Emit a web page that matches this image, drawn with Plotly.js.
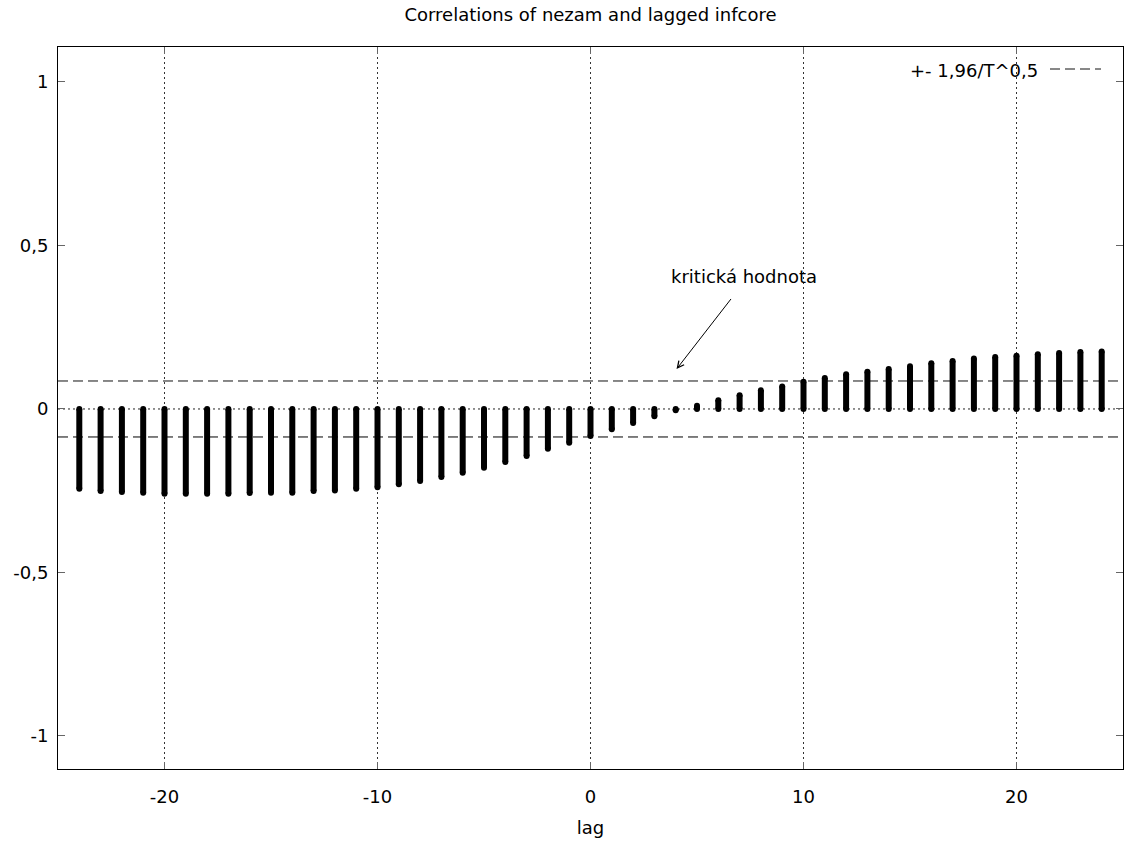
<!DOCTYPE html>
<html>
<head>
<meta charset="utf-8">
<script src="https://cdn.plot.ly/plotly-3.0.1.min.js"></script>
<style>html,body{margin:0;padding:0;background:#fff;}#chart{width:1124px;height:843px;}</style>
</head>
<body>
<div id="chart"></div>
<script>
// Data
const lags = [-24,-23,-22,-21,-20,-19,-18,-17,-16,-15,-14,-13,-12,-11,-10,-9,-8,-7,-6,-5,-4,-3,-2,-1,
              0,1,2,3,4,5,6,7,8,9,10,11,12,13,14,15,16,17,18,19,20,21,22,23,24];
const corr = [-0.244,-0.251,-0.254,-0.256,-0.259,-0.259,-0.259,-0.259,-0.257,-0.256,-0.256,-0.251,-0.249,-0.244,
              -0.239,-0.230,-0.220,-0.208,-0.195,-0.180,-0.162,-0.144,-0.122,-0.103,
              -0.083,-0.062,-0.043,-0.022,-0.004,0.010,0.027,0.042,0.057,0.069,0.083,0.095,0.106,0.114,0.122,
              0.131,0.140,0.147,0.154,0.159,0.163,0.167,0.171,0.174,0.176];
const critical = 0.0856;
const xTickVals = [-20,-10,0,10,20];
const xTickText = ['-20','-10','0','10','20'];
const yTickVals = [-1,-0.5,0,0.5,1];
const yTickText = ['-1','-0,5','0','0,5','1'];
const titleText = 'Correlations of nezam and lagged infcore';
const xTitle = 'lag';
const legendText = '+- 1,96/T^0,5';
const noteText = 'kritická hodnota';
const noteTip = [4.04, 0.122];
const noteTail = [6.65, 0.341];
const noteTextPos = [7.22, 0.404];

// Build segments
const segX = [], segY = [], capX = [], capY = [];
lags.forEach((l, i) => {
  segX.push(l, l, null);
  segY.push(0, corr[i], null);
  capX.push(l, l);
  capY.push(0, corr[i]);
});

const font = 'DejaVu Sans, Verdana, sans-serif';
const fs = 18;
const traces = [
  {x: segX, y: segY, mode: 'lines', line: {color: '#000', width: 6}, hoverinfo: 'skip', showlegend: false},
  {x: capX, y: capY, mode: 'markers', marker: {color: '#000', size: 6, line: {width: 0}}, hoverinfo: 'skip', showlegend: false}
];

const dashStyle = '10px,5px';
const shapes = [
  {type: 'line', xref: 'paper', yref: 'y', x0: 0, x1: 1, y0: critical, y1: critical, line: {color: '#111', width: 1, dash: dashStyle}, layer: 'below'},
  {type: 'line', xref: 'paper', yref: 'y', x0: 0, x1: 1, y0: -critical, y1: -critical, line: {color: '#000', width: 1, dash: dashStyle}, layer: 'below'},
  {type: 'line', xref: 'paper', yref: 'y', x0: 0, x1: 1, y0: 0, y1: 0, line: {color: '#222', width: 1, dash: '2px,3px'}, layer: 'below'},
  // legend sample
  {type: 'line', xref: 'paper', yref: 'paper', x0: (1050-58)/1065, x1: (1101-58)/1065, y0: (769-69)/722, y1: (769-69)/722, line: {color: '#111', width: 1, dash: dashStyle}}
];

const layout = {
  width: 1124, height: 843,
  margin: {l: 58, r: 1, t: 47, b: 74},
  paper_bgcolor: '#fff', plot_bgcolor: '#fff',
  separators: ', ',
  font: {family: font, size: fs, color: '#000'},
  showlegend: false,
  title: {text: titleText, font: {family: font, size: fs, color: '#000'}, x: 0.5, xref: 'paper', xanchor: 'center', y: 1 - 15/843, yanchor: 'middle', yref: 'container'},
  xaxis: {
    range: [-25, 25], tickmode: 'array', tickvals: xTickVals, ticktext: xTickText,
    ticks: 'inside', ticklen: 7, tickcolor: '#666', tickwidth: 1,
    showline: true, linecolor: '#000', linewidth: 1, mirror: 'allticks',
    showgrid: true, gridcolor: '#333', griddash: '2px,3px', gridwidth: 1,
    zeroline: false, ticklabelstandoff: 11,
    tickfont: {family: font, size: fs, color: '#000'},
    title: {text: xTitle, font: {family: font, size: fs, color: '#000'}, standoff: 15}
  },
  yaxis: {
    range: [-1.101, 1.107], tickmode: 'array', tickvals: yTickVals, ticktext: yTickText,
    ticks: 'inside', ticklen: 7, tickcolor: '#666', tickwidth: 1,
    showline: true, linecolor: '#000', linewidth: 1, mirror: 'allticks',
    showgrid: false, zeroline: false, ticklabelstandoff: 5,
    tickfont: {family: font, size: fs, color: '#000'}
  },
  shapes: shapes,
  annotations: [
    {xref: 'paper', yref: 'paper', x: (1040-58)/1065, y: (769-70)/722, xanchor: 'right', yanchor: 'middle', text: legendText, showarrow: false, font: {family: font, size: fs, color: '#000'}},
    {xref: 'x', yref: 'y', x: noteTextPos[0], y: noteTextPos[1], text: noteText, showarrow: false, xanchor: 'center', yanchor: 'middle', font: {family: font, size: fs, color: '#000'}},
    {xref: 'x', yref: 'y', x: noteTip[0], y: noteTip[1], axref: 'x', ayref: 'y', ax: noteTail[0], ay: noteTail[1], text: '', showarrow: true, arrowhead: 5, arrowsize: 1.3, arrowwidth: 1, arrowcolor: '#000'}
  ]
};

Plotly.newPlot('chart', traces, layout, {displayModeBar: false, staticPlot: true});
</script>
</body>
</html>
